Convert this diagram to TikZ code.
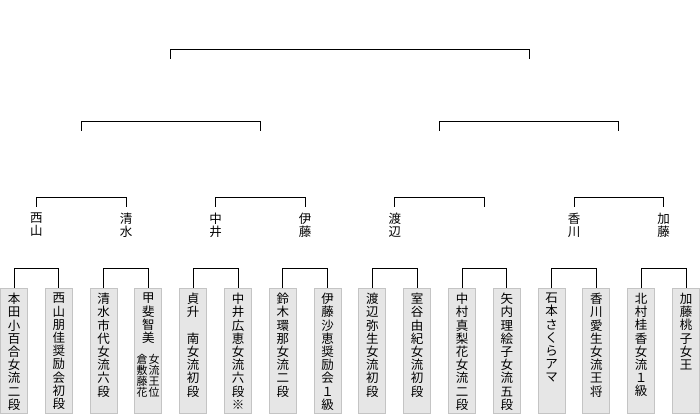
\documentclass[tikz,border=0pt]{standalone}
\usepackage{fontspec}
\newfontfamily\jp{Noto Sans CJK JP}
\definecolor{boxfill}{HTML}{E6E6E6}
\definecolor{boxline}{HTML}{C4C4C4}
\def\vtend{}
\def\vtfirst#1{#1\vtaux}
\def\vtaux#1{\ifx#1\vtend\let\vtnxt\relax\else\def\vtnxt{\\#1\vtaux}\fi\vtnxt}
\newcommand\V[1]{\vtfirst#1\vtend}
\begin{document}
\begin{tikzpicture}[x=1pt,y=1pt,
  ln/.style={line width=1pt, black},
  box/.style={draw=boxline, fill=boxfill, line width=1pt, minimum width=27pt, minimum height=125pt, inner sep=0pt, anchor=north},
  vtxt/.style={font={\jp\fontsize{12.5}{13.2}\selectfont}, align=center, inner sep=0pt, anchor=north},
  stxt/.style={font={\jp\fontsize{11}{11}\selectfont}, align=center, inner sep=0pt, anchor=north},
  nm/.style={font={\jp\fontsize{12.5}{12.5}\selectfont}, align=center, inner xsep=0pt, inner ysep=6pt, anchor=north}]
\useasboundingbox (0,0) rectangle (700,415);
% level 1
\coordinate (A1) at (170.8,356);
\coordinate (A2) at (529.2,356);
\draw[ln] (A1) -- ++(0,9) -| (A2);
% level 2
\coordinate (B1) at (81.2,284);
\coordinate (B2) at (260.4,284);
\coordinate (B3) at (439.6,284);
\coordinate (B4) at (618.8,284);
\draw[ln] (B1) -- ++(0,9) -| (B2);
\draw[ln] (B3) -- ++(0,9) -| (B4);
% level 3 names
\node[nm] (n1) at (36.4,208) {西\\山};
\node[nm] (n2) at (126,208) {清\\水};
\node[nm] (n3) at (215.6,208) {中\\井};
\node[nm] (n4) at (305.2,208) {伊\\藤};
\node[nm] (n5) at (394.8,208) {渡\\辺};
\node[nm] (n6) at (484.4,208) {};
\node[nm] (n7) at (574,208) {香\\川};
\node[nm] (n8) at (663.6,208) {加\\藤};
\draw[ln] (n1.north) -- ++(0,9) -| (n2.north);
\draw[ln] (n3.north) -- ++(0,9) -| (n4.north);
\draw[ln] (n5.north) -- ++(0,9) -| (n6.north);
\draw[ln] (n7.north) -- ++(0,9) -| (n8.north);
% boxes
\node[box] (b1) at (14,127) {};
\node[box] (b2) at (58.8,127) {};
\node[box] (b3) at (103.6,127) {};
\node[box] (b4) at (148.4,127) {};
\node[box] (b5) at (193.2,127) {};
\node[box] (b6) at (238,127) {};
\node[box] (b7) at (282.8,127) {};
\node[box] (b8) at (327.6,127) {};
\node[box] (b9) at (372.4,127) {};
\node[box] (b10) at (417.2,127) {};
\node[box] (b11) at (462,127) {};
\node[box] (b12) at (506.8,127) {};
\node[box] (b13) at (551.6,127) {};
\node[box] (b14) at (596.4,127) {};
\node[box] (b15) at (641.2,127) {};
\node[box] (b16) at (686,127) {};
\draw[ln] (b1.north) -- ++(0,20) -| (b2.north);
\draw[ln] (b3.north) -- ++(0,20) -| (b4.north);
\draw[ln] (b5.north) -- ++(0,20) -| (b6.north);
\draw[ln] (b7.north) -- ++(0,20) -| (b8.north);
\draw[ln] (b9.north) -- ++(0,20) -| (b10.north);
\draw[ln] (b11.north) -- ++(0,20) -| (b12.north);
\draw[ln] (b13.north) -- ++(0,20) -| (b14.north);
\draw[ln] (b15.north) -- ++(0,20) -| (b16.north);
% box texts
\node[vtxt] (t1) at ([yshift=-5pt]b1.north) {\V{本田小百合女流二段}};
\node[vtxt] (t2) at ([yshift=-5pt]b2.north) {\V{西山朋佳奨励会初段}};
\node[vtxt] (t3) at ([yshift=-5pt]b3.north) {\V{清水市代女流六段}};
\node[vtxt] (t4) at ([yshift=-5pt]b4.north) {\V{甲斐智美}};
\node[stxt] (t4a) at (142.2,61) {\V{倉敷藤花}};
\node[stxt] (t4b) at (154.2,61) {\V{女流王位}};
\node[vtxt] (t5) at ([yshift=-5pt]b5.north) {\V{貞升　南女流初段}};
\node[vtxt] (t6) at ([yshift=-5pt]b6.north) {\V{中井広恵女流六段※}};
\node[vtxt] (t7) at ([yshift=-5pt]b7.north) {\V{鈴木環那女流二段}};
\node[vtxt] (t8) at ([yshift=-5pt]b8.north) {\V{伊藤沙恵奨励会１級}};
\node[vtxt] (t9) at ([yshift=-5pt]b9.north) {\V{渡辺弥生女流初段}};
\node[vtxt] (t10) at ([yshift=-5pt]b10.north) {\V{室谷由紀女流初段}};
\node[vtxt] (t11) at ([yshift=-5pt]b11.north) {\V{中村真梨花女流二段}};
\node[vtxt] (t12) at ([yshift=-5pt]b12.north) {\V{矢内理絵子女流五段}};
\node[vtxt] (t13) at ([yshift=-5pt]b13.north) {\V{石本さくらアマ}};
\node[vtxt] (t14) at ([yshift=-5pt]b14.north) {\V{香川愛生女流王将}};
\node[vtxt] (t15) at ([yshift=-5pt]b15.north) {\V{北村桂香女流１級}};
\node[vtxt] (t16) at ([yshift=-5pt]b16.north) {\V{加藤桃子女王}};
\end{tikzpicture}
\end{document}
